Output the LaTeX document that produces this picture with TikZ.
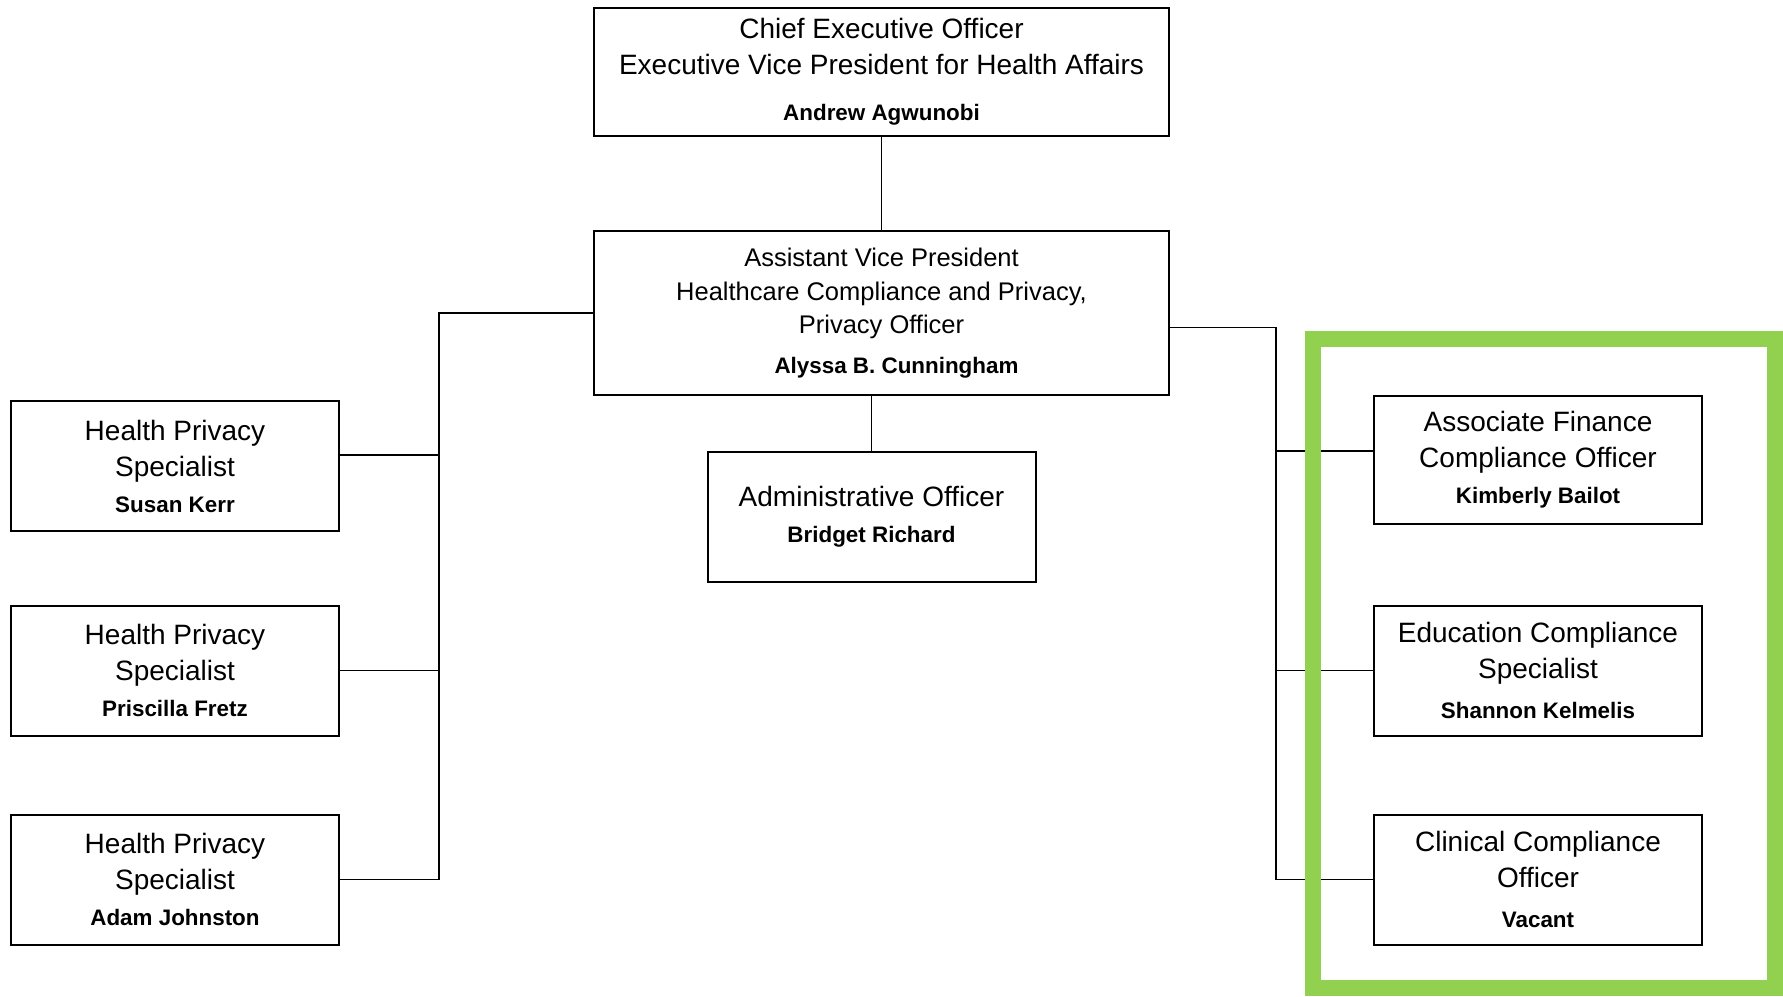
\documentclass[tikz,border=0pt]{standalone}
\usepackage{fontspec}
\setmainfont{Liberation Sans}
\definecolor{framegreen}{HTML}{92D050}
\newcommand{\staff}[1]{{\fontsize{11.2}{14}\selectfont\bfseries #1}}
\begin{document}
\begin{tikzpicture}[x=0.5pt,y=-0.5pt,
 box/.style={rectangle,draw,line width=1pt,minimum width=164pt,minimum height=65pt,
             align=center,inner sep=0pt,font=\fontsize{14}{18}\selectfont},
 link/.style={line width=0.8pt}]
\useasboundingbox (0,0) rectangle (1783,996);
% top of the chart
\node[box,minimum width=287.5pt,minimum height=64pt] (ceo) at (881.5,72)
  {Chief Executive Officer\\Executive Vice President for Health Affairs\\[5pt]\staff{Andrew Agwunobi}};
\node[box,minimum width=287.5pt,minimum height=82pt,font=\fontsize{12.75}{16.8}\selectfont] (avp) at (881.5,313)
  {Assistant Vice President\\Healthcare Compliance and Privacy,\\Privacy Officer\\[3pt]\hspace*{15pt}\staff{Alyssa B. Cunningham}};
\node[box] (admin) at (871.5,517) {Administrative Officer\\\staff{Bridget Richard}};
% left column
\node[box] (hps1) at (175,466) {Health Privacy\\Specialist\\\staff{Susan Kerr}};
\node[box] (hps2) at (175,670.5) {Health Privacy\\Specialist\\\staff{Priscilla Fretz}};
\node[box] (hps3) at (175,879.5) {Health Privacy\\Specialist\\\staff{Adam Johnston}};
% right column
\node[box,minimum height=64pt] (aco) at (1538,460) {Associate Finance\\Compliance Officer\\\staff{Kimberly Bailot}};
\node[box] (ecs) at (1538,670.5) {Education Compliance\\Specialist\\[2pt]\staff{Shannon Kelmelis}};
\node[box] (cco) at (1538,879.5) {Clinical Compliance\\Officer\\[2pt]\staff{Vacant}};
% connectors
\coordinate (lbus) at (439,313);
\coordinate (rbus) at (1276,327.5);
\draw[link] (ceo) -- (avp);
\draw[link] (avp.south -| admin.north) -- (admin.north);
\draw[link] (avp.west) -- (lbus) |- (hps3.east);
\draw[link] ([yshift=5.5pt]hps1.east) -- ([yshift=5.5pt]hps1.east -| lbus);
\draw[link] (hps2.east) -- (hps2.east -| lbus);
\draw[link] (avp.east |- rbus) -- (rbus) |- (cco.west);
\draw[link] ([yshift=4.5pt]aco.west) -- ([yshift=4.5pt]aco.west -| rbus);
\draw[link] (ecs.west) -- (ecs.west -| rbus);
% highlight frame
\draw[framegreen,line width=8pt] (1313,339) rectangle (1775,988);
\end{tikzpicture}
\end{document}
